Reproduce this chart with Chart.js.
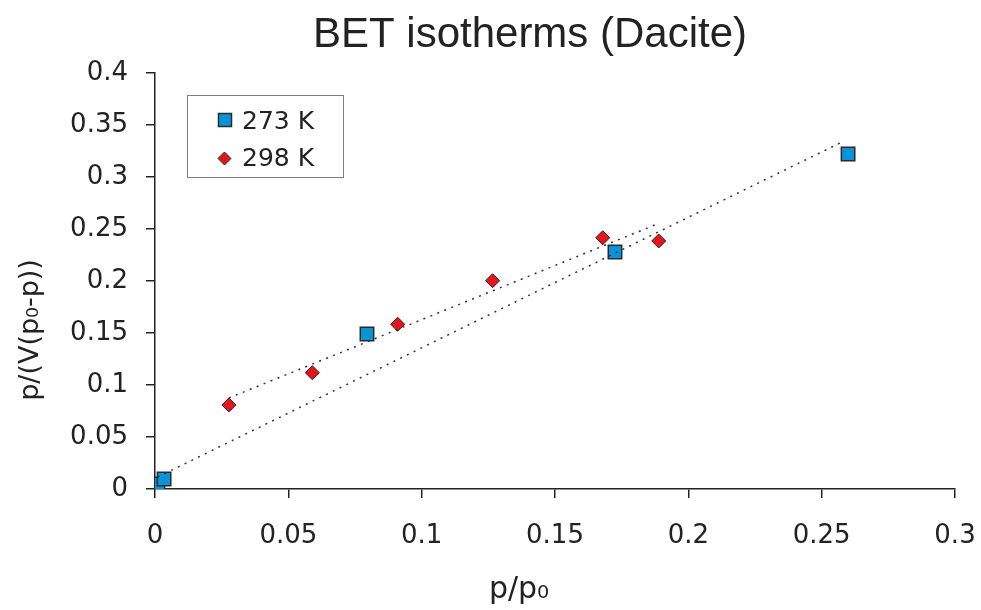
<!DOCTYPE html>
<html>
<head>
<meta charset="utf-8">
<script src="https://cdn.jsdelivr.net/npm/chart.js@4.4.0/dist/chart.umd.min.js"></script>
<style>
  html, body { margin: 0; padding: 0; background: #fff; }
  #wrap { width: 981px; height: 610px; }
</style>
</head>
<body>
<div id="wrap"><canvas id="betChart" width="981" height="610"></canvas></div>
<script>
const chartTitle = "BET isotherms (Dacite)";
const xTitle = "p/p\u2080";
const yTitle = "p/(V(p\u2080-p))";
const seriesNames = ["273 K", "298 K"];

// measured points
const x273 = [0.0011, 0.0034, 0.0795, 0.1725, 0.2599];
const y273 = [0.0048, 0.0096, 0.1490, 0.2279, 0.3221];
const x298 = [0.0277, 0.0590, 0.0910, 0.1266, 0.1679, 0.1889];
const y298 = [0.0808, 0.1118, 0.1584, 0.2003, 0.2416, 0.2385];

// dotted trend lines, end points
const trend273X = [0.0010, 0.2577];
const trend273Y = [0.0115, 0.3337];
const trend298X = [0.0277, 0.1883];
const trend298Y = [0.0875, 0.2548];

const xTicks = [0, 0.05, 0.1, 0.15, 0.2, 0.25, 0.3];
const xTickLabels = ["0", "0.05", "0.1", "0.15", "0.2", "0.25", "0.3"];
const yTicks = [0, 0.05, 0.1, 0.15, 0.2, 0.25, 0.3, 0.35, 0.4];
const yTickLabels = ["0", "0.05", "0.1", "0.15", "0.2", "0.25", "0.3", "0.35", "0.4"];

const blue = "#0a93d6";
const red = "#e3161d";
const ink = "#222";

const toPoints = (xs, ys) => xs.map((x, i) => ({ x: x, y: ys[i] }));

// title, axis titles and the boxed legend
const annotations = {
  id: "annotations",
  afterDraw(chart) {
    const ctx = chart.ctx;
    ctx.save();
    ctx.fillStyle = ink;
    ctx.textBaseline = "alphabetic";

    ctx.font = '42px "Liberation Sans", "DejaVu Sans", sans-serif';
    ctx.textAlign = "center";
    ctx.fillText(chartTitle, 530, 47);

    ctx.font = '30px "DejaVu Sans", sans-serif';
    ctx.fillText(xTitle, 519, 598);

    ctx.save();
    ctx.translate(38, 330);
    ctx.rotate(-Math.PI / 2);
    ctx.font = '27px "DejaVu Sans", sans-serif';
    ctx.fillText(yTitle, 0, 0);
    ctx.restore();

    // legend
    ctx.strokeStyle = "#7f7f7f";
    ctx.lineWidth = 1;
    ctx.strokeRect(187.5, 95.5, 156, 82);

    ctx.fillStyle = blue;
    ctx.fillRect(218.5, 113.5, 13, 13);
    ctx.strokeStyle = "#2b2b2b";
    ctx.lineWidth = 1.5;
    ctx.strokeRect(218.5, 113.5, 13, 13);

    ctx.beginPath();
    ctx.moveTo(224.5, 152);
    ctx.lineTo(231, 158.5);
    ctx.lineTo(224.5, 165);
    ctx.lineTo(218, 158.5);
    ctx.closePath();
    ctx.fillStyle = red;
    ctx.fill();
    ctx.lineWidth = 1;
    ctx.stroke();

    ctx.fillStyle = ink;
    ctx.textAlign = "left";
    ctx.font = '25px "DejaVu Sans", sans-serif';
    ctx.fillText(seriesNames[0], 242, 129);
    ctx.fillText(seriesNames[1], 242, 166);
    ctx.restore();
  }
};

const ctx = document.getElementById("betChart").getContext("2d");

new Chart(ctx, {
  type: "scatter",
  data: {
    datasets: [
      {
        label: seriesNames[0] + " fit",
        data: toPoints(trend273X, trend273Y),
        showLine: true,
        borderColor: "#333",
        borderWidth: 1.5,
        borderDash: [2, 5.5],
        pointRadius: 0,
        order: 0
      },
      {
        label: seriesNames[1] + " fit",
        data: toPoints(trend298X, trend298Y),
        showLine: true,
        borderColor: "#333",
        borderWidth: 1.5,
        borderDash: [2, 5.5],
        pointRadius: 0,
        order: 0
      },
      {
        label: seriesNames[0],
        data: toPoints(x273, y273),
        pointStyle: "rect",
        pointRadius: 9.5,
        backgroundColor: blue,
        borderColor: "#2b2b2b",
        borderWidth: 1.5,
        order: 1
      },
      {
        label: seriesNames[1],
        data: toPoints(x298, y298),
        pointStyle: "rectRot",
        pointRadius: 7,
        backgroundColor: red,
        borderColor: "#3a1a1a",
        borderWidth: 1,
        order: 1
      }
    ]
  },
  options: {
    responsive: false,
    animation: false,
    devicePixelRatio: 1,
    layout: { padding: { top: 73, right: 26, left: 0, bottom: 0 } },
    plugins: {
      legend: { display: false },
      title: { display: false },
      tooltip: { enabled: false }
    },
    scales: {
      x: {
        type: "linear",
        min: 0,
        max: 0.3,
        afterBuildTicks: s => { s.ticks = xTicks.map(v => ({ value: v })); },
        afterFit: s => { s.height = 121; s.paddingLeft = 0; s.paddingRight = 0; },
        ticks: {
          autoSkip: false,
          maxRotation: 0,
          padding: 23,
          color: ink,
          font: { family: "DejaVu Sans", size: 26 },
          callback: (value, index) => xTickLabels[index]
        },
        grid: {
          display: true,
          drawOnChartArea: false,
          drawTicks: true,
          tickLength: 9,
          color: ink,
          lineWidth: 1.5
        },
        border: { display: true, color: ink, width: 1.5 }
      },
      y: {
        type: "linear",
        min: 0,
        max: 0.4,
        afterBuildTicks: s => { s.ticks = yTicks.map(v => ({ value: v })); },
        afterFit: s => { s.width = 155; },
        ticks: {
          autoSkip: false,
          padding: 18,
          color: ink,
          font: { family: "DejaVu Sans", size: 26 },
          callback: (value, index) => yTickLabels[index]
        },
        grid: {
          display: true,
          drawOnChartArea: false,
          drawTicks: true,
          tickLength: 9,
          color: ink,
          lineWidth: 1.5
        },
        border: { display: true, color: ink, width: 1.5 }
      }
    }
  },
  plugins: [annotations]
});
</script>
</body>
</html>
